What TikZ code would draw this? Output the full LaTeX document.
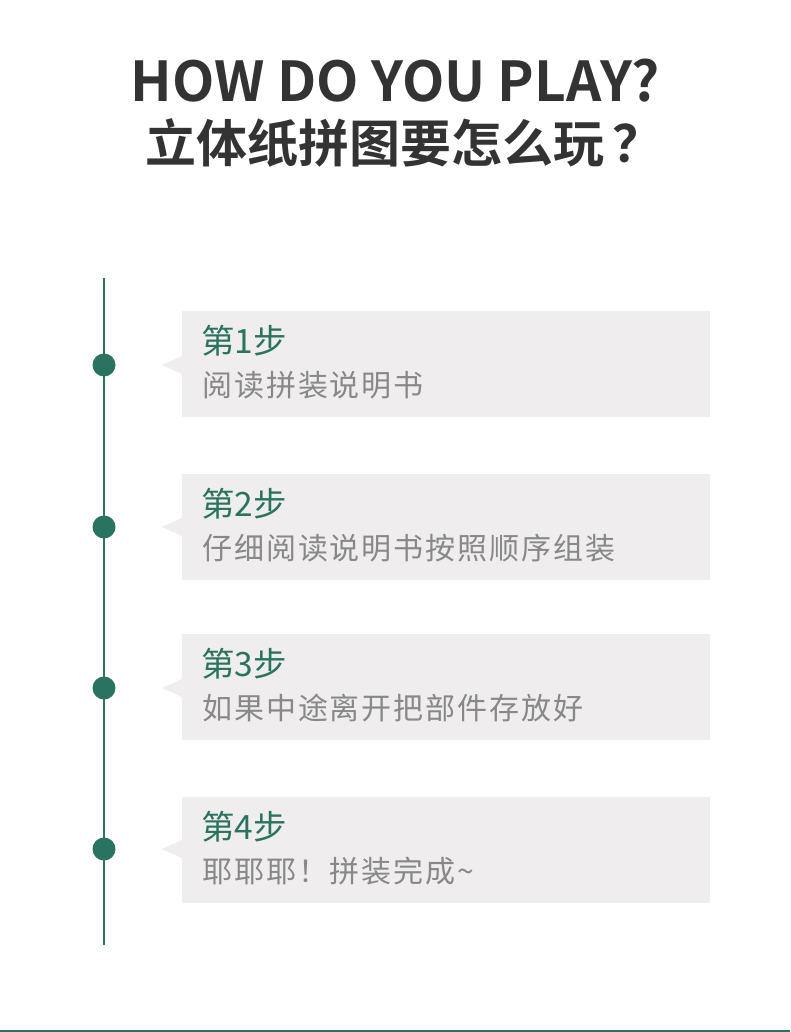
\documentclass[tikz,border=0pt]{standalone}
\usepackage{fontspec}
\newfontfamily\cjk{Noto Sans CJK SC}
\newfontfamily\cjksp[LetterSpace=6.5]{Noto Sans CJK SC}
\newfontfamily\cjkb{Noto Sans CJK SC Bold}
\definecolor{teal}{HTML}{2A7360}
\definecolor{boxgray}{HTML}{EFEDED}
\definecolor{txtgray}{HTML}{888888}
\definecolor{title}{HTML}{333333}
\tikzset{
  stepbox/.style={fill=boxgray, draw=none},
  stepdot/.style={circle, fill=teal, draw=none, minimum size=23pt, inner sep=0pt},
  steptitle/.style={anchor=west, inner sep=0pt, text=teal, font=\cjk\fontsize{33.5}{38}\selectfont},
  steptext/.style={anchor=west, inner sep=0pt, text=txtgray, font=\cjksp\fontsize{30}{34}\selectfont},
}
\begin{document}
\begin{tikzpicture}[x=1pt,y=-1pt]
\useasboundingbox (0,0) rectangle (790,1032);
\fill[white] (0,0) rectangle (790,1032);
% titles
\node[inner sep=0pt, text=title, font=\cjkb\fontsize{55}{60}\selectfont] (t1) at (395,81) {HOW DO YOU PLAY?};
\node[anchor=west, inner sep=0pt, text=title, font=\cjkb\fontsize{51}{56}\selectfont] (t2) at (145,143) {立体纸拼图要怎么玩\kern0.17em？};
% timeline
\coordinate (ltop) at (104,278);
\coordinate (lbot) at (104,945);
\draw[teal, line width=2pt] (ltop) -- (lbot);
% steps
\foreach \i/\y/\d/\a/\b in {1/311/365/第1步/阅读拼装说明书, 2/474/527/第2步/仔细阅读说明书按照顺序组装, 3/634/688/第3步/如果中途离开把部件存放好, 4/797/849/第4步/耶耶耶！拼装完成\textasciitilde}{
  \fill[boxgray] (162,\d) -- (182,\d-9) -- (182,\d+9) -- cycle;
  \node[stepbox, minimum width=528pt, minimum height=106pt, anchor=north west, inner sep=0pt] (box\i) at (182,\y) {};
  \node[stepdot] (dot\i) at (104,\d) {};
  \node[steptitle] (st\i) at (201,\y+30) {\a};
  \node[steptext] (sx\i) at (202,\y+74) {\b};
}
% bottom rule
\coordinate (bl) at (0,1031.2);
\coordinate (br) at (790,1031.2);
\draw[teal, line width=1.6pt] (bl) -- (br);
\end{tikzpicture}
\end{document}
